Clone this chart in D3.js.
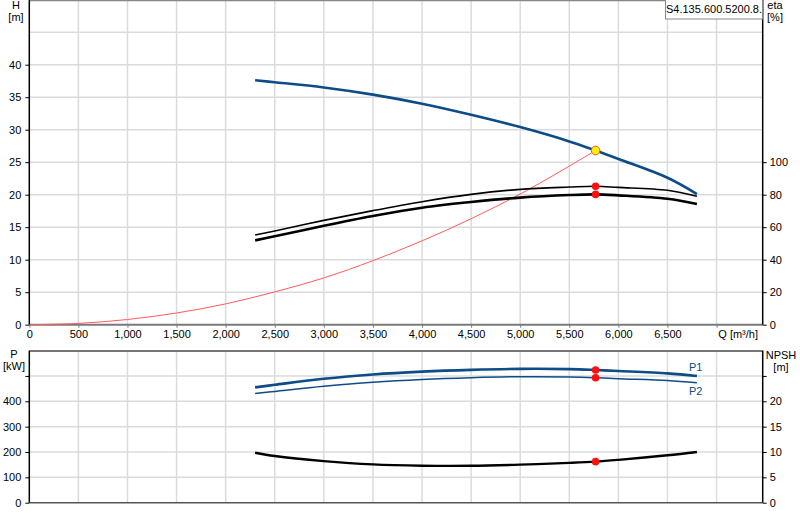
<!DOCTYPE html>
<html>
<head>
<meta charset="utf-8">
<script src="https://cdn.jsdelivr.net/npm/d3@7"></script>
<style>
  body { margin: 0; background: #fff; }
  svg text { font-family: "Liberation Sans", Arial, sans-serif; font-size: 11px; fill: #000; }
</style>
</head>
<body>
<div id="chart"></div>
<script>
// Courbe de pompe : H / rendement (haut), P1 / P2 / NPSH (bas)

// Débit commun aux courbes de la pompe (m³/h)
const pumpQ = [2300, 2500, 3000, 3500, 4000, 4500, 5000, 5500, 5768, 6000, 6500, 6800];
const head  = [37.6, 37.3, 36.5, 35.4, 34.0, 32.3, 30.4, 28.2, 26.8, 25.5, 22.6, 20.1];
const etaA  = [55.2, 57.7, 64.2, 70.2, 75.7, 80.2, 83.3, 84.7, 85.2, 84.5, 82.7, 79.0];
const etaB  = [51.9, 54.4, 60.9, 66.9, 72.0, 75.5, 78.2, 79.8, 80.2, 79.6, 77.5, 74.3];
const powerP1 = [455, 465, 489, 506, 517, 524, 528, 527, 523.5, 519.5, 510, 500];
const powerP2 = [431, 439, 459, 475, 486, 493, 497, 496, 493, 489, 482, 473];
const npsh    = [9.85, 9.2, 8.2, 7.55, 7.3, 7.28, 7.5, 7.85, 8.1, 8.45, 9.35, 10.0];

// Courbe réseau
const systemQ = [0, 500, 1000, 1500, 2000, 2500, 3000, 3500, 4000, 4500, 5000, 5500, 5768];
const systemH = [0, 0.2, 0.8, 1.8, 3.2, 5.05, 7.2, 9.85, 12.9, 16.3, 20.1, 24.4, 26.8];

// Point de fonctionnement
const dutyQ = 5768;
const dutyH = 26.8;
const dutyEta = [85.2, 80.2];
const dutyP = [523.5, 493];
const dutyNpsh = 8.1;

// Graduations
const qTicks = [0, 500, 1000, 1500, 2000, 2500, 3000, 3500, 4000, 4500, 5000, 5500, 6000, 6500, 7000];
const hTicks = [0, 5, 10, 15, 20, 25, 30, 35, 40];
const hGrid  = [5, 10, 15, 20, 25, 30, 35, 40, 45];
const etaTicks = [0, 20, 40, 60, 80, 100];
const pTicks = [0, 100, 200, 300, 400, 500];
const npshTicks = [0, 5, 10, 15, 20, 25];

const modelName = "S4.135.600.5200.8.";

const width = 800, height = 520;
const left = 29.3, right = 762.7;
const top1 = -0.3, bottom1 = 324.7;
const top2 = 350.6, bottom2 = 502.7;

const blue = "#0d4c87";
const gridColor = "#d9dcdf";

const svg = d3.select("#chart").append("svg")
  .attr("width", width).attr("height", height);

const x = d3.scaleLinear().domain([0, 7470]).range([left, right]);
const yH = d3.scaleLinear().domain([0, 50]).range([bottom1, top1]);
const yEta = d3.scaleLinear().domain([0, 200]).range([bottom1, top1]);
const yP = d3.scaleLinear().domain([0, 600]).range([bottom2, top2]);
const yN = d3.scaleLinear().domain([0, 30]).range([bottom2, top2]);

// Grilles
function grid(yScale, yVals, y0, y1) {
  svg.append("g").selectAll("line.v")
    .data(qTicks.filter(d => d > 0))
    .join("line")
    .attr("x1", d => x(d)).attr("x2", d => x(d))
    .attr("y1", y0).attr("y2", y1)
    .attr("stroke", gridColor).attr("stroke-width", 1.5);
  svg.append("g").selectAll("line.h")
    .data(yVals)
    .join("line")
    .attr("x1", left).attr("x2", right)
    .attr("y1", d => yScale(d)).attr("y2", d => yScale(d))
    .attr("stroke", gridColor).attr("stroke-width", 1.5);
}
grid(yH, hGrid, 0, bottom1);
grid(yP, pTicks.filter(d => d > 0), top2, bottom2);

// Axes
function styleAxis(g) {
  g.select(".domain").remove();
  g.selectAll(".tick line").attr("stroke", "#000");
  g.selectAll(".tick text").attr("font-size", null).attr("font-family", null);
  g.attr("font-size", null).attr("font-family", null);
}

svg.append("g")
  .attr("transform", `translate(${left},0)`)
  .call(d3.axisLeft(yH).tickValues(hTicks).tickSize(4).tickPadding(4))
  .call(styleAxis);

svg.append("g")
  .attr("transform", `translate(${right},0)`)
  .call(d3.axisRight(yEta).tickValues(etaTicks).tickSize(4).tickPadding(3))
  .call(styleAxis);

svg.append("g")
  .attr("transform", `translate(0,${bottom1})`)
  .call(d3.axisBottom(x).tickValues(qTicks).tickSize(3).tickPadding(3)
    .tickFormat(d => d === 7000 ? "" : d3.format(",")(d)))
  .call(styleAxis)
  .selectAll(".tick line").attr("stroke", "#777");

svg.append("g")
  .attr("transform", `translate(${left},0)`)
  .call(d3.axisLeft(yP).tickValues(pTicks).tickSize(4).tickPadding(4)
    .tickFormat(d => d === 500 ? "" : d))
  .call(styleAxis);

svg.append("g")
  .attr("transform", `translate(${right},0)`)
  .call(d3.axisRight(yN).tickValues(npshTicks).tickSize(4).tickPadding(3)
    .tickFormat(d => d === 25 ? "" : d))
  .call(styleAxis);

// Cadres
svg.append("line").attr("x1", left).attr("x2", right).attr("y1", 0.5).attr("y2", 0.5)
  .attr("stroke", "#888").attr("stroke-width", 1.5);
svg.append("line").attr("x1", left).attr("x2", right).attr("y1", bottom1).attr("y2", bottom1)
  .attr("stroke", "#7a7a7a").attr("stroke-width", 2);
svg.append("line").attr("x1", left).attr("x2", right).attr("y1", top2 + 0.5).attr("y2", top2 + 0.5)
  .attr("stroke", "#777").attr("stroke-width", 2);
svg.append("line").attr("x1", left).attr("x2", right).attr("y1", bottom2).attr("y2", bottom2)
  .attr("stroke", "#555").attr("stroke-width", 1.5);
[[0, bottom1], [top2, bottom2]].forEach(([a, b]) => {
  svg.append("line").attr("x1", left).attr("x2", left).attr("y1", a).attr("y2", b)
    .attr("stroke", "#000").attr("stroke-width", 1.5);
  svg.append("line").attr("x1", right).attr("x2", right).attr("y1", a).attr("y2", b)
    .attr("stroke", "#000").attr("stroke-width", 1.5);
});

// Titres d'axes
function axisTitle(cx, cy, lines) {
  lines.forEach((t, i) => {
    svg.append("text").attr("x", cx).attr("y", cy + i * 12)
      .attr("text-anchor", "middle").text(t);
  });
}
axisTitle(16, 9, ["H", "[m]"]);
axisTitle(775, 9, ["eta", "[%]"]);
axisTitle(14, 358, ["P", "[kW]"]);
axisTitle(781, 359, ["NPSH", "[m]"]);
svg.append("text").attr("x", 758).attr("y", 338).attr("text-anchor", "end").text("Q [m³/h]");

// Étiquette modèle
svg.append("rect").attr("x", 665.5).attr("y", -1).attr("width", 97).attr("height", 20)
  .attr("fill", "#fff").attr("stroke", "#888");
svg.append("text").attr("x", 714).attr("y", 13).attr("text-anchor", "middle").text(modelName);

// Courbes
function curve(qs, vs, yScale, color, w) {
  const line = d3.line()
    .x((d, i) => x(qs[i]))
    .y(d => yScale(d))
    .curve(d3.curveCatmullRom.alpha(0.5));
  svg.append("path").datum(vs)
    .attr("d", line)
    .attr("fill", "none")
    .attr("stroke", color)
    .attr("stroke-width", w);
}

curve(systemQ, systemH, yH, "#ff5a5a", 1);
curve(pumpQ, etaA, yEta, "#000", 1.6);
curve(pumpQ, etaB, yEta, "#000", 2.6);
curve(pumpQ, head, yH, blue, 2.6);

curve(pumpQ, powerP1, yP, blue, 2.6);
curve(pumpQ, powerP2, yP, blue, 1.5);
curve(pumpQ, npsh, yN, "#000", 2.4);

// Points de fonctionnement
dutyEta.forEach(v => {
  svg.append("circle").attr("cx", x(dutyQ)).attr("cy", yEta(v)).attr("r", 3.8).attr("fill", "#ff1010");
});
dutyP.forEach(v => {
  svg.append("circle").attr("cx", x(dutyQ)).attr("cy", yP(v)).attr("r", 3.8).attr("fill", "#ff1010");
});
svg.append("circle").attr("cx", x(dutyQ)).attr("cy", yN(dutyNpsh)).attr("r", 3.8).attr("fill", "#ff1010");
svg.append("circle").attr("cx", x(dutyQ)).attr("cy", yH(dutyH)).attr("r", 4.3)
  .attr("fill", "#ffee00").attr("stroke", "#f05a28").attr("stroke-width", 1);

// Libellés P1 / P2
const lastQ = pumpQ[pumpQ.length - 1];
svg.append("text").attr("x", x(lastQ) - 8).attr("y", yP(powerP1[powerP1.length - 1]) - 5)
  .style("fill", blue).text("P1");
svg.append("text").attr("x", x(lastQ) - 8).attr("y", yP(powerP2[powerP2.length - 1]) + 12)
  .style("fill", blue).text("P2");
</script>
</body>
</html>
